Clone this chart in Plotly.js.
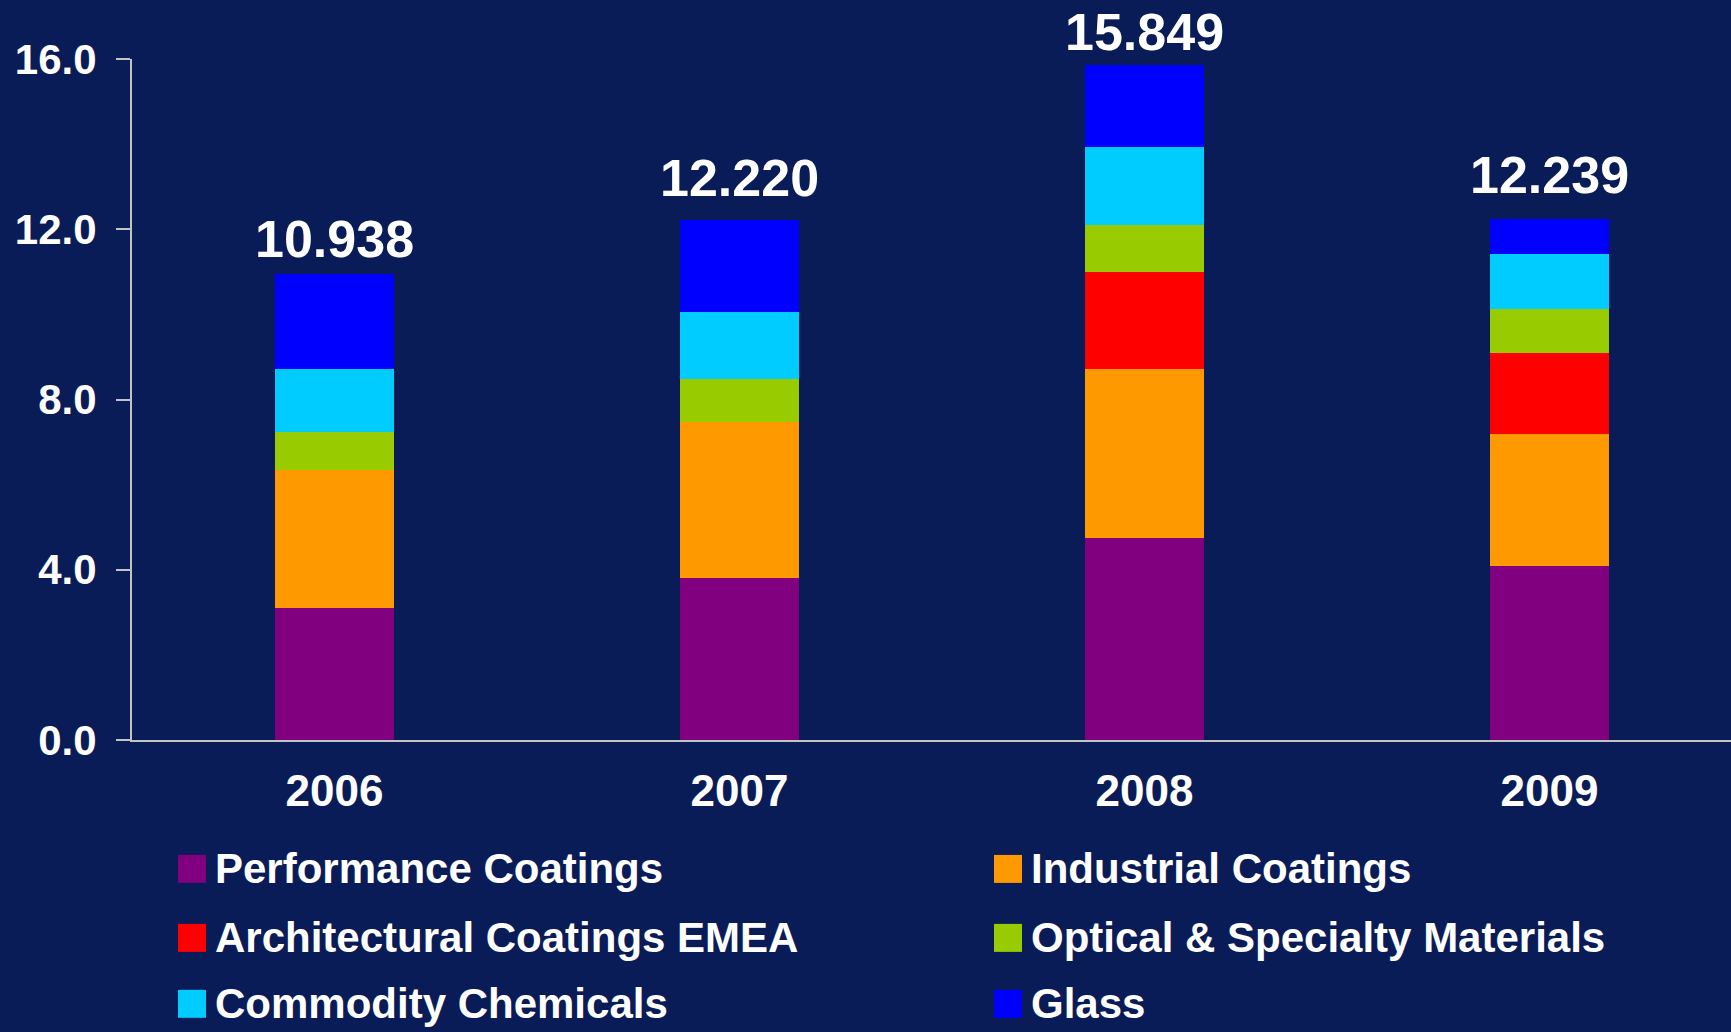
<!DOCTYPE html>
<html>
<head>
<meta charset="utf-8">
<script src="https://cdn.plot.ly/plotly-3.0.1.min.js"></script>
<style>
  html, body { margin: 0; padding: 0; background: #0a1c57; }
  #chart { width: 1731px; height: 1032px; }
</style>
</head>
<body>
<div id="chart"></div>
<script>
// ---- Data ----
const years = ['2006', '2007', '2008', '2009'];
const totals = [10.938, 12.220, 15.849, 12.239];
const totalLabels = ['10.938', '12.220', '15.849', '12.239'];

const performanceCoatings = [3.11, 3.81, 4.75, 4.09];
const industrialCoatings = [3.24, 3.65, 3.97, 3.11];
const architecturalCoatingsEMEA = [0, 0, 2.28, 1.90];
const opticalSpecialtyMaterials = [0.88, 1.03, 1.11, 1.02];
const commodityChemicals = [1.48, 1.57, 1.83, 1.30];
const glass = [2.23, 2.16, 1.91, 0.82];

const seriesNames = ['Performance Coatings', 'Industrial Coatings', 'Architectural Coatings EMEA',
                     'Optical & Specialty Materials', 'Commodity Chemicals', 'Glass'];
const seriesValues = [performanceCoatings, industrialCoatings, architecturalCoatingsEMEA,
                      opticalSpecialtyMaterials, commodityChemicals, glass];
const seriesColors = ['#800080', '#ff9900', '#ff0000', '#99cc00', '#00ccff', '#0000ff'];

const yTicks = [0, 4, 8, 12, 16];

// ---- Styling / layout geometry ----
const labelYShift = [4, 11, 2, 13];   // pixel lift of each total label
const W = 1731, H = 1032;
const M = { l: 132, r: 0, t: 58.6, b: 292 };
const plotW = W - M.l - M.r, plotH = H - M.t - M.b;
const px2x = p => (p - M.l) / plotW;
const px2y = p => (H - M.b - p) / plotH;

const FONT = 'Arial, "Liberation Sans", sans-serif';
const BG = '#0a1c57';
const AXIS = '#c4c4c4';

const traces = seriesNames.map((name, i) => ({
  type: 'bar',
  name: name,
  x: years,
  y: seriesValues[i],
  marker: { color: seriesColors[i], line: { width: 0 } },
  showlegend: false,
  hoverinfo: 'name+y'
}));

// total labels above each stacked bar (x given as category index)
const annotations = years.map((yr, i) => ({
  x: i, y: totals[i], xref: 'x', yref: 'y',
  text: totalLabels[i], showarrow: false,
  xanchor: 'center', yanchor: 'bottom', yshift: labelYShift[i],
  font: { family: FONT, size: 52, color: '#ffffff', weight: 'bold' }
}));

// custom legend (large square swatches)
const legendColLeft = [178, 994];
const legendRowCenter = [869, 938, 1004];
const swatch = 28;
const shapes = [];
seriesNames.forEach((name, i) => {
  const col = i % 2, row = Math.floor(i / 2);
  const lx = legendColLeft[col], cy = legendRowCenter[row];
  shapes.push({
    type: 'rect', xref: 'paper', yref: 'paper',
    x0: px2x(lx), x1: px2x(lx + swatch),
    y0: px2y(cy + swatch / 2), y1: px2y(cy - swatch / 2),
    fillcolor: seriesColors[i], line: { width: 0 }
  });
  annotations.push({
    xref: 'paper', yref: 'paper',
    x: px2x(lx + swatch + 7), y: px2y(cy),
    xanchor: 'left', yanchor: 'middle', showarrow: false,
    text: name,
    font: { family: FONT, size: 42, color: '#ffffff', weight: 'bold' }
  });
});

const layout = {
  width: W, height: H,
  margin: M,
  paper_bgcolor: BG, plot_bgcolor: BG,
  barmode: 'stack',
  bargap: 0.704,
  showlegend: false,
  font: { family: FONT, color: '#ffffff' },
  xaxis: {
    type: 'category',
    range: [-0.5, -0.5 + plotW / 405],
    showline: true, linecolor: AXIS, linewidth: 2,
    ticks: '', showgrid: false, zeroline: false,
    ticklabelstandoff: 11,
    tickfont: { family: FONT, size: 44, color: '#ffffff', weight: 'bold' }
  },
  yaxis: {
    range: [0, 16],
    tickvals: yTicks,
    tickformat: '.1f',
    showline: true, linecolor: AXIS, linewidth: 2,
    ticks: 'outside', ticklen: 14, tickwidth: 2, tickcolor: AXIS,
    showgrid: false, zeroline: false,
    ticklabelstandoff: 11,
    tickfont: { family: FONT, size: 42, color: '#ffffff', weight: 'bold' }
  },
  annotations: annotations,
  shapes: shapes
};

Plotly.newPlot('chart', traces, layout, { displayModeBar: false, staticPlot: true });
</script>
</body>
</html>
